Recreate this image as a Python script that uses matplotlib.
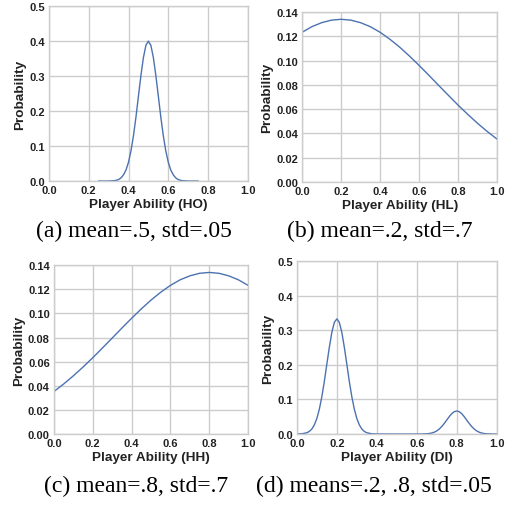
import matplotlib
matplotlib.use("Agg")
import matplotlib.pyplot as plt

# (a) single narrow peak, mean .5 std .05
ho_x = [0.25, 0.275, 0.3, 0.325, 0.3375, 0.35, 0.3625, 0.375, 0.3875, 0.4, 0.4125,
        0.425, 0.4375, 0.45, 0.4625, 0.475, 0.4875, 0.5, 0.5125, 0.525, 0.5375,
        0.55, 0.5625, 0.575, 0.5875, 0.6, 0.6125, 0.625, 0.6375, 0.65, 0.6625,
        0.675, 0.7, 0.725, 0.75]
ho_y = [0.0, 0.0, 0.0001, 0.0009, 0.0020, 0.0044, 0.0091, 0.018, 0.0318, 0.054, 0.0865,
        0.130, 0.183, 0.243, 0.302, 0.353, 0.388, 0.400, 0.388, 0.353, 0.302,
        0.243, 0.183, 0.130, 0.0865, 0.054, 0.0318, 0.018, 0.0091, 0.0044, 0.0020,
        0.0009, 0.0001, 0.0, 0.0]

# (b) wide curve, peak near .2
hl_x = [0.0, 0.05, 0.1, 0.15, 0.2, 0.25, 0.3, 0.35, 0.4, 0.45, 0.5,
        0.55, 0.6, 0.65, 0.7, 0.75, 0.8, 0.85, 0.9, 0.95, 1.0]
hl_y = [0.1233, 0.1279, 0.1312, 0.1333, 0.1340, 0.1333, 0.1312, 0.1279, 0.1233, 0.1176, 0.1111,
        0.1038, 0.0960, 0.0879, 0.0796, 0.0714, 0.0633, 0.0556, 0.0483, 0.0415, 0.0353]

# (c) wide curve, peak near .8
hh_x = [0.0, 0.05, 0.1, 0.15, 0.2, 0.25, 0.3, 0.35, 0.4, 0.45, 0.5,
        0.55, 0.6, 0.65, 0.7, 0.75, 0.8, 0.85, 0.9, 0.95, 1.0]
hh_y = [0.0353, 0.0415, 0.0483, 0.0556, 0.0633, 0.0714, 0.0796, 0.0879, 0.0960, 0.1038, 0.1111,
        0.1176, 0.1233, 0.1279, 0.1312, 0.1333, 0.1340, 0.1333, 0.1312, 0.1279, 0.1233]

# (d) two peaks at .2 and .8
di_x = [0.0, 0.025, 0.05, 0.0625, 0.075, 0.0875, 0.1, 0.1125, 0.125, 0.1375, 0.15,
        0.1625, 0.175, 0.1875, 0.2, 0.2125, 0.225, 0.2375, 0.25, 0.2625, 0.275,
        0.2875, 0.3, 0.3125, 0.325, 0.3375, 0.35, 0.375, 0.4, 0.45, 0.5, 0.55,
        0.6, 0.625, 0.65, 0.6625, 0.675, 0.6875, 0.7, 0.7125, 0.725, 0.7375, 0.75,
        0.7625, 0.775, 0.7875, 0.8, 0.8125, 0.825, 0.8375, 0.85, 0.8625, 0.875,
        0.8875, 0.9, 0.9125, 0.925, 0.9375, 0.95, 0.975, 1.0]
di_y = [0.0001, 0.0007, 0.0037, 0.0076, 0.0146, 0.0265, 0.045, 0.072, 0.108, 0.152, 0.202,
        0.251, 0.294, 0.323, 0.333, 0.323, 0.294, 0.251, 0.202, 0.152, 0.108,
        0.072, 0.045, 0.0265, 0.0146, 0.0076, 0.0037, 0.0007, 0.0001, 0.0, 0.0, 0.0,
        0.0, 0.0001, 0.0007, 0.0015, 0.0029, 0.0053, 0.0090, 0.0144, 0.0217, 0.0305, 0.0404,
        0.0503, 0.0589, 0.0646, 0.0667, 0.0646, 0.0589, 0.0503, 0.0404, 0.0305, 0.0217,
        0.0144, 0.0090, 0.0053, 0.0029, 0.0015, 0.0007, 0.0001, 0.0]

panels = [
    ([0.0944, 0.643, 0.383, 0.343], ho_x, ho_y, 0.5, [0, 0.1, 0.2, 0.3, 0.4, 0.5], "%.1f", "Player Ability (HO)"),
    ([0.582, 0.641, 0.376, 0.3335], hl_x, hl_y, 0.14, [0, 0.02, 0.04, 0.06, 0.08, 0.10, 0.12, 0.14], "%.2f", "Player Ability (HL)"),
    ([0.104, 0.147, 0.374, 0.331], hh_x, hh_y, 0.14, [0, 0.02, 0.04, 0.06, 0.08, 0.10, 0.12, 0.14], "%.2f", "Player Ability (HH)"),
    ([0.572, 0.147, 0.385, 0.339], di_x, di_y, 0.5, [0, 0.1, 0.2, 0.3, 0.4, 0.5], "%.1f", "Player Ability (DI)"),
]
captions = ["(a) mean=.5, std=.05", "(b) mean=.2, std=.7",
            "(c) mean=.8, std=.7", "(d) means=.2, .8, std=.05"]
cap_pos = [(134, 231), (380, 231), (136, 486), (374, 486)]

grey = "#cccccc"
txt = "#222222"
sans = ["Liberation Sans", "DejaVu Sans"]

fig = plt.figure(figsize=(5.19, 5.10), dpi=100)
for (rect, xs, ys, ymax, yt, fmt, xlab) in panels:
    ax = fig.add_axes(rect)
    ax.plot(xs, ys, color="#4c72b0", lw=1.0)
    ax.set_xlim(0, 1)
    ax.set_ylim(0, ymax)
    ax.set_xticks([0, 0.2, 0.4, 0.6, 0.8, 1.0])
    ax.set_xticklabels(["%.1f" % v for v in [0, 0.2, 0.4, 0.6, 0.8, 1.0]])
    ax.set_yticks(yt)
    ax.set_yticklabels([fmt % v for v in yt])
    ax.grid(True, color=grey, lw=1.0)
    ax.set_axisbelow(True)
    for s in ax.spines.values():
        s.set_color(grey)
        s.set_linewidth(1.0)
    ax.tick_params(length=0, pad=3, labelsize=8, labelcolor=txt)
    for lab in ax.get_xticklabels() + ax.get_yticklabels():
        lab.set_fontweight("bold")
        lab.set_family(sans)
    ax.set_xlabel(xlab, fontsize=9.7, fontweight="bold", color=txt, labelpad=2, family=sans)
    ax.set_ylabel("Probability", fontsize=9.7, fontweight="bold", color=txt, labelpad=2, family=sans)

for c, (px, py) in zip(captions, cap_pos):
    fig.text(px / 519, 1 - py / 510, c, ha="center", va="center",
             family="Liberation Serif", fontsize=17)

plt.savefig("out.png", dpi=100)
